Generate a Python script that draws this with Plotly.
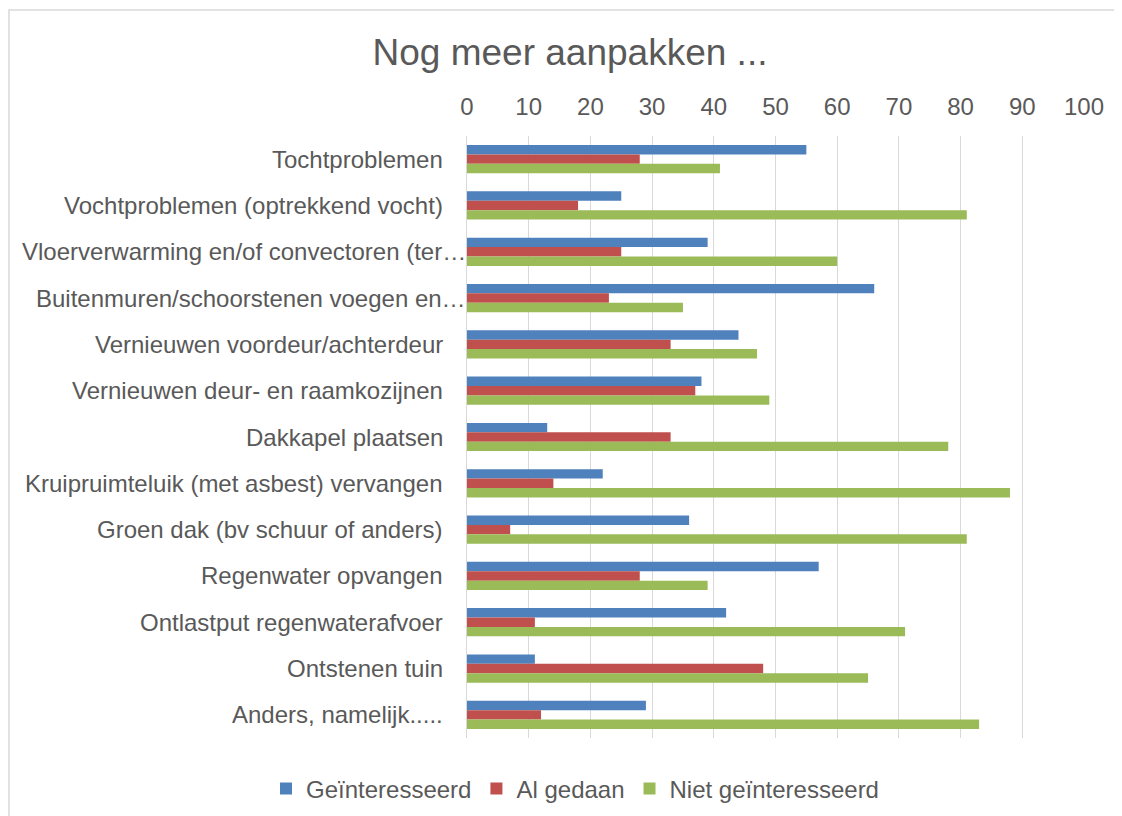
import plotly.graph_objects as go

categories = [
    "Tochtproblemen",
    "Vochtproblemen (optrekkend vocht)",
    "Vloerverwarming en/of convectoren (ter…",
    "Buitenmuren/schoorstenen voegen en…",
    "Vernieuwen voordeur/achterdeur",
    "Vernieuwen deur- en raamkozijnen",
    "Dakkapel plaatsen",
    "Kruipruimteluik (met asbest) vervangen",
    "Groen dak (bv schuur of anders)",
    "Regenwater opvangen",
    "Ontlastput regenwaterafvoer",
    "Ontstenen tuin",
    "Anders, namelijk.....",
]
geinteresseerd = [55, 25, 39, 66, 44, 38, 13, 22, 36, 57, 42, 11, 29]
al_gedaan = [28, 18, 25, 23, 33, 37, 33, 14, 7, 28, 11, 48, 12]
niet_geinteresseerd = [41, 81, 60, 35, 47, 49, 78, 88, 81, 39, 71, 65, 83]
x_ticks = [0, 10, 20, 30, 40, 50, 60, 70, 80, 90, 100]

series = [
    ("Geïnteresseerd", geinteresseerd, "#4F81BD"),
    ("Al gedaan", al_gedaan, "#C0504D"),
    ("Niet geïnteresseerd", niet_geinteresseerd, "#9BBB59"),
]

fig = go.Figure()
for name, vals, col in series:
    fig.add_trace(go.Bar(
        y=categories, x=vals, name=name, orientation="h",
        marker=dict(color=col, line=dict(width=0)),
    ))

# page body has an 8px default margin; work in the shifted frame
OFF = 8
W, H = 1122 - OFF, 816 - OFF
L, R, T, B = 467 - OFF, 1084 - OFF, 136 - OFF, 738 - OFF
pw, ph = R - L, B - T
TXT = "#595959"

annotations = []
for cat in categories:
    truncated = cat.endswith("…")
    annotations.append(dict(
        x=0, xref="paper", y=cat, yref="y", xanchor="right", yanchor="middle",
        xshift=1 if truncated else -22, showarrow=False, text=cat,
        font=dict(size=24, color=TXT),
    ))

fig.update_layout(
    width=W, height=H,
    margin=dict(l=L, r=W - R, t=T, b=H - B, autoexpand=False),
    paper_bgcolor="white", plot_bgcolor="white",
    barmode="group", bargap=0.39, bargroupgap=0,
    font=dict(family="Liberation Sans, Arial, sans-serif", size=24, color=TXT),
    title=dict(text="Nog meer aanpakken ...", x=(570 - OFF) / W, xanchor="center",
               y=1 - (52 - OFF) / H, yanchor="middle", yref="container",
               font=dict(size=37, color=TXT)),
    xaxis=dict(side="top", range=[0, 100], tickvals=x_ticks, automargin=False,
               showgrid=True, gridcolor="#D9D9D9", gridwidth=1,
               zeroline=False, showline=False, ticks="", ticklabelstandoff=15,
               tickfont=dict(size=24, color=TXT), fixedrange=True),
    yaxis=dict(autorange="reversed", showgrid=False, zeroline=False, automargin=False,
               showline=True, linecolor="#D9D9D9", linewidth=1, ticks="",
               showticklabels=False),
    legend=dict(orientation="h", xref="container", yref="container",
                x=(575 - OFF) / W, xanchor="center",
                y=1 - (789 - OFF) / H, yanchor="middle",
                font=dict(size=24, color=TXT),
                itemwidth=30, tracegroupgap=0),
    annotations=annotations,
    shapes=[dict(type="rect", xref="paper", yref="paper",
                 x0=(1 - L) / pw, x1=(1200 - L) / pw,
                 y0=(B - 900) / ph, y1=(B - 2) / ph,
                 line=dict(color="#D9D9D9", width=1.5), fillcolor="rgba(0,0,0,0)",
                 layer="below")],
)

fig.write_html("out.html")
